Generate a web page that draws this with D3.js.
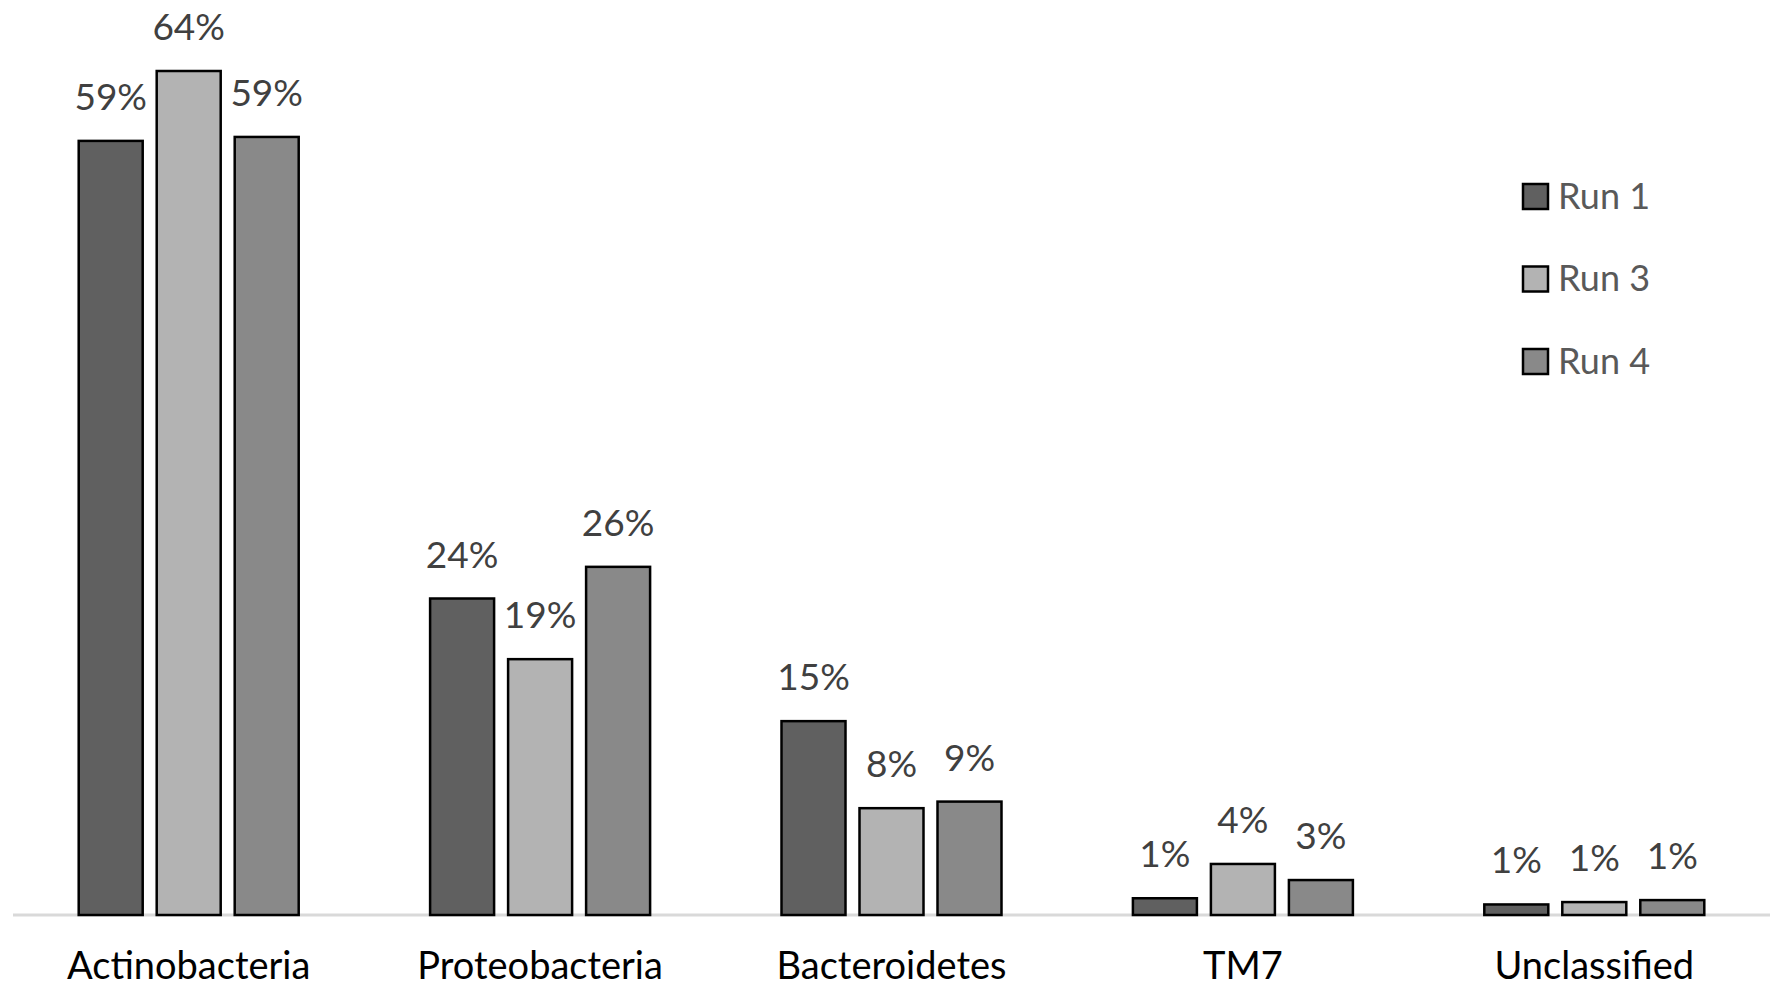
<!DOCTYPE html>
<html>
<head>
<meta charset="utf-8">
<script src="https://cdn.jsdelivr.net/npm/d3@7"></script>
<style>
  html, body { margin: 0; padding: 0; background: #ffffff; }
  svg { display: block; }
  text { font-family: Lato, "Open Sans", sans-serif; }
</style>
</head>
<body>
<svg id="chart" width="1783" height="994"></svg>
<script>
// ---- data ----
const categories = ["Actinobacteria", "Proteobacteria", "Bacteroidetes", "TM7", "Unclassified"];
const seriesNames = ["Run 1", "Run 3", "Run 4"];
const run1 = [0.587, 0.240, 0.147, 0.0127, 0.008];
const run3 = [0.640, 0.194, 0.081, 0.0387, 0.0098];
const run4 = [0.590, 0.264, 0.086, 0.0265, 0.0113];
const seriesColors = ["#606060", "#b3b3b3", "#898989"];

const seriesValues = [run1, run3, run4];
const rows = categories.map((c, i) => ({
  category: c,
  values: seriesNames.map((s, j) => ({ series: s, value: seriesValues[j][i], idx: j }))
}));

const svg = d3.select("#chart");

const plotLeft = 13, plotRight = 1770, baseY = 915;
const groupWidth = 220;

const x0 = d3.scaleBand().domain(categories).range([plotLeft, plotRight]).padding(0);
const x1 = d3.scaleBand().domain(seriesNames).range([0, groupWidth]).paddingInner(14 / 78).paddingOuter(0);
const y = d3.scaleLinear().domain([0, 0.70]).range([baseY, baseY - 0.70 * 1318.75]);
const color = d3.scaleOrdinal().domain(seriesNames).range(seriesColors);
const fmt = d3.format(".0%");

// axis line (category axis)
const xAxis = d3.axisBottom(x0).tickSize(0).tickPadding(0).tickFormat("");
const axisG = svg.append("g").attr("transform", `translate(0,${baseY})`).call(xAxis);
axisG.select(".domain").attr("stroke", "#d9d9d9").attr("stroke-width", 3)
  .attr("d", `M${plotLeft},0H${plotRight}`);

// bars
const groups = svg.append("g").selectAll("g.grp").data(rows).join("g")
  .attr("class", "grp")
  .attr("transform", d => `translate(${x0(d.category) + (x0.bandwidth() - groupWidth) / 2},0)`);

groups.selectAll("rect").data(d => d.values).join("rect")
  .attr("x", d => x1(d.series))
  .attr("y", d => y(d.value))
  .attr("width", x1.bandwidth())
  .attr("height", d => baseY - y(d.value))
  .attr("fill", d => color(d.series))
  .attr("stroke", "#000")
  .attr("stroke-width", 2.5);

// data labels
groups.selectAll("text.lbl").data(d => d.values).join("text")
  .attr("class", "lbl")
  .attr("x", d => x1(d.series) + x1.bandwidth() / 2)
  .attr("y", d => y(d.value) - 31)
  .attr("text-anchor", "middle")
  .attr("font-size", 37)
  .attr("fill", "#404040")
  .text(d => fmt(d.value));

// category labels
svg.append("g").selectAll("text").data(categories).join("text")
  .attr("x", d => x0(d) + x0.bandwidth() / 2)
  .attr("y", 979)
  .attr("text-anchor", "middle")
  .attr("font-size", 38)
  .attr("fill", "#000")
  .text(d => d);

// legend
const legend = svg.append("g").selectAll("g").data(seriesNames).join("g")
  .attr("transform", (d, i) => `translate(1523,${184 + i * 82.5})`);
legend.append("rect")
  .attr("width", 25).attr("height", 25)
  .attr("fill", d => color(d))
  .attr("stroke", "#000").attr("stroke-width", 2.5);
legend.append("text")
  .attr("x", 35).attr("y", 24.5)
  .attr("font-size", 36)
  .attr("fill", "#595959")
  .text(d => d);
</script>
</body>
</html>
